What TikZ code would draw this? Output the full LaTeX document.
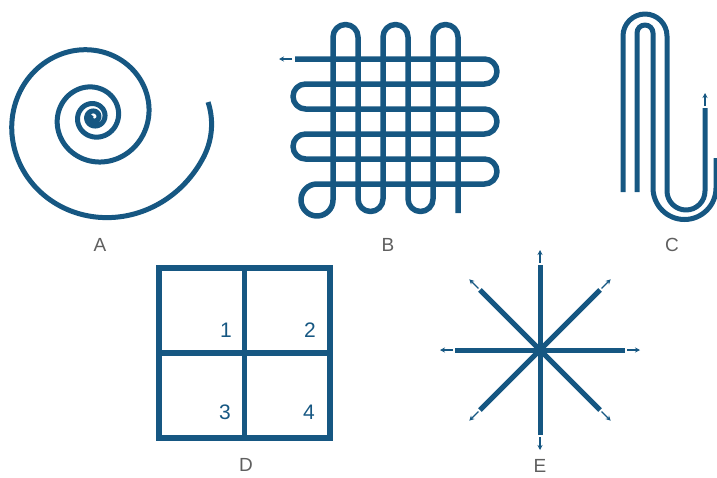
\documentclass[tikz,border=0pt]{standalone}
\usepackage{fontspec}
\setmainfont{Liberation Sans}
\usetikzlibrary{arrows.meta}
\definecolor{ink}{RGB}{22,87,130}
\definecolor{lbl}{RGB}{95,95,95}
\begin{document}
\begin{tikzpicture}[x=1pt,y=-1pt,
  strokeA/.style={draw=ink, line width=5pt, line cap=butt, line join=round},
  strokeB/.style={draw=ink, line width=5.5pt, line cap=butt, line join=round},
  strokeD/.style={draw=ink, line width=5.5pt, line cap=butt, line join=miter},
  tiparrow/.style={draw=ink, line width=1.3pt, -{Stealth[length=5pt,width=5pt]}},
  letter/.style={text=lbl, font=\fontsize{19}{19}\selectfont, inner sep=0pt},
  digit/.style={text=ink, font=\fontsize{21}{21}\selectfont, inner sep=0pt}]
\useasboundingbox (0,0) rectangle (717,477);

% A: spiral
\draw[strokeA] plot[domain=-0.13:29, samples=600, smooth, variable=\t]
  ({94+(122*exp(-0.128*\t)-9*(max(0,0.35-\t)/0.48)^2)*cos(deg(\t))},
   {117+(122*exp(-0.128*\t)-9*(max(0,0.35-\t)/0.48)^2)*sin(deg(\t))});
\node[letter] (labA) at (100,245) {A};

% B: woven grid
\coordinate (Bstart) at (295,59);
\coordinate (Btip) at (279,59);
\draw[strokeB] (Bstart) -- (484.5,59) arc[start angle=90,end angle=-90,radius=12.5pt]
  -- (305.5,84) arc[start angle=90,end angle=270,radius=12.5pt]
  -- (484.5,109) arc[start angle=90,end angle=-90,radius=12.5pt]
  -- (305.5,134) arc[start angle=90,end angle=270,radius=12.5pt]
  -- (484.5,159) arc[start angle=90,end angle=-90,radius=12.5pt]
  -- (317,184) arc[start angle=90,end angle=360,radius=16pt]
  -- (333,37) arc[start angle=180,end angle=0,radius=12.5pt]
  -- (358,199) arc[start angle=180,end angle=360,radius=12.5pt]
  -- (383,37) arc[start angle=180,end angle=0,radius=12.5pt]
  -- (408,199) arc[start angle=180,end angle=360,radius=12.5pt]
  -- (433,37) arc[start angle=180,end angle=0,radius=12.5pt]
  -- (458,213);
\draw[tiparrow] (292,59) -- (Btip);
\node[letter] (labB) at (388,245) {B};

% C: paper clip
\draw[strokeA] (623,192) -- (623,36) arc[start angle=180,end angle=0,radius=22pt]
  -- (667,191) arc[start angle=180,end angle=360,radius=19pt] -- (705,108);
\draw[strokeA] (637,192) -- (637,33) arc[start angle=180,end angle=0,radius=8pt]
  -- (653,188) arc[start angle=180,end angle=360,radius=31.5pt] -- (716,158);
\coordinate (Ctip) at (705,93);
\draw[tiparrow] (705,106) -- (Ctip);
\node[letter] (labC) at (672,245) {C};

% D: quadrants
\draw[strokeD] (159,268) rectangle (330,438);
\draw[strokeD] (244.5,268) -- (244.5,438);
\draw[strokeD] (159,353) -- (330,353);
\node[digit] (d1) at (226,330) {1};
\node[digit] (d2) at (310,330) {2};
\node[digit] (d3) at (225,412) {3};
\node[digit] (d4) at (309,412) {4};
\node[letter] (labD) at (246,465) {D};

% E: star
\coordinate (Ec) at (540,350);
\foreach \a in {0,45,90,135} {
  \draw[strokeA] ([shift={(\a:85)}]Ec) -- ([shift={(\a+180:85)}]Ec);
}
\foreach \a in {0,45,...,315} {
  \draw[tiparrow] ([shift={(\a:87)}]Ec) -- ([shift={(\a:100)}]Ec);
}
\node[letter] (labE) at (540,466) {E};
\end{tikzpicture}
\end{document}
